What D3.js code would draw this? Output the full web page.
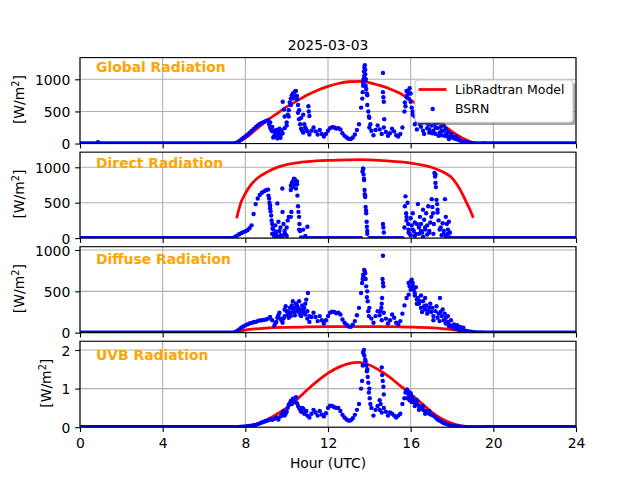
<!DOCTYPE html>
<html><head><meta charset="utf-8">
<script src="https://cdn.jsdelivr.net/npm/d3@7/dist/d3.min.js"></script>
<style>
html,body{margin:0;padding:0;background:#fff;}
svg{display:block;}
text{font-family:"DejaVu Sans",sans-serif;}
</style></head><body>
<svg id="chart" width="640" height="480"></svg>
<script>
// ---------------- DATA ----------------
const titleText = "2025-03-03";
const panelNames = ["Global Radiation", "Direct Radiation", "Diffuse Radiation", "UVB Radiation"];
const yMaxes = [1338, 1214, 1040, 2.227];
const yTicks = [[0, 500, 1000], [0, 500, 1000], [0, 500, 1000], [0, 1, 2]];
const xTicks = [0, 4, 8, 12, 16, 20, 24];
const xLabel = "Hour (UTC)";
const legendLabels = ["LibRadtran Model", "BSRN"];

// BSRN is zero during the night
const nightSegments = [[0, 7.5], [19.5, 24]];

// LibRadtran model [hour, value]
const modelGlobal = [[7.55,0],[8,85],[8.5,215],[9,345],[9.5,460],[10,570],[10.5,665],[11,755],[11.5,830],[12,890],[12.5,935],[13,962],[13.5,968],[14,950],[14.5,905],[15,850],[15.5,780],[16,680],[16.5,560],[17,430],[17.5,305],[18,185],[18.5,85],[19,15],[19.2,0]];
const modelDirect = [[7.58,280],[7.75,470],[8,630],[8.25,745],[8.5,825],[8.77,887],[9,925],[9.5,995],[10,1038],[10.5,1063],[11,1080],[12,1098],[13,1106],[13.6,1108],[14,1105],[15,1088],[15.5,1075],[16,1058],[16.5,1035],[16.85,1012],[17.2,980],[17.66,920],[18,850],[18.25,752],[18.5,625],[18.71,497],[18.9,380],[19.03,286]];
const modelDiffuse = [[7.58,5],[7.8,22],[8,32],[8.5,47],[9,56],[10,64],[11,69],[12,72],[13,74],[14,74],[15,72],[16,67],[17,58],[17.5,50],[18,36],[18.5,20],[19.03,5]];
const modelUVB = [[7.6,0],[8,0.02],[8.5,0.07],[9,0.18],[9.5,0.33],[10,0.5],[10.5,0.72],[11,0.97],[11.5,1.2],[12,1.4],[12.5,1.55],[13,1.65],[13.5,1.68],[14,1.61],[14.5,1.47],[15,1.29],[15.5,1.07],[16,0.86],[16.5,0.63],[17,0.4],[17.5,0.22],[18,0.1],[18.5,0.03],[19,0]];

// BSRN daytime trace, sampled every 0.1 h from 07:30 to 19:30
const traceStart = 7.5, traceStep = 0.1;
const bsrnGlobal = [5,18,38,62,88,112,138,165,195,225,
 255,282,305,322,338,350,362,330,190,120,
 210,140,90,160,240,330,520,700,780,810,
 740,380,230,170,250,190,140,200,250,190,
 140,210,150,110,150,200,240,255,250,235,
 240,220,160,120,95,75,70,95,140,210,
 300,560,900,1150,750,400,200,130,210,280,
 220,150,250,180,120,160,230,190,130,110,
 150,250,500,720,800,650,450,300,220,380,
 260,200,330,240,170,280,200,150,240,170,
 130,200,140,110,90,120,80,70,60,45,
 35,28,20,15,10,7,5,3,2,1,
 0];
const bsrnDirect = [15,35,55,70,85,95,110,140,180,340,
 480,560,610,640,660,675,685,420,60,20,
 90,10,40,0,60,150,300,740,800,830,
 760,120,10,0,30,0,0,0,0,0,
 0,0,0,0,0,0,0,0,0,0,
 0,0,0,0,0,0,0,0,0,0,
 0,0,980,600,100,0,0,0,0,0,
 0,0,0,0,0,0,0,0,0,0,
 0,0,150,300,80,40,120,30,200,60,
 100,20,150,50,80,300,60,900,400,120,
 40,100,20,60,10,0,0,0,0,0,
 0,0,0,0,0,0,0,0,0,0,
 0];
const bsrnDiffuse = [5,20,40,60,75,88,100,110,118,125,
 130,140,148,150,155,160,170,190,150,80,
 130,210,170,120,200,260,180,240,290,210,
 330,250,200,280,220,170,130,190,240,190,
 140,200,150,110,150,200,240,255,250,235,
 240,220,160,120,95,75,70,95,140,210,
 300,480,700,720,500,300,170,120,200,260,
 210,150,240,170,110,150,220,180,120,100,
 140,230,330,420,460,520,560,480,400,350,
 300,380,280,230,300,250,200,260,180,140,
 200,150,110,130,90,70,50,60,40,30,
 45,25,20,15,10,7,5,3,2,1,
 0];
const bsrnUVB = [0,0,0.005,0.01,0.015,0.02,0.025,0.03,0.04,0.05,
 0.06,0.08,0.1,0.12,0.14,0.16,0.18,0.2,0.19,0.22,
 0.25,0.2,0.28,0.36,0.3,0.4,0.58,0.68,0.74,0.72,
 0.62,0.5,0.4,0.48,0.4,0.3,0.25,0.35,0.45,0.38,
 0.3,0.42,0.33,0.28,0.36,0.5,0.56,0.55,0.52,0.5,
 0.5,0.42,0.32,0.25,0.2,0.17,0.18,0.23,0.32,0.45,
 0.6,1.0,1.95,1.75,1.5,1.0,0.5,0.3,0.45,0.55,
 0.45,0.38,0.5,0.4,0.3,0.38,0.35,0.3,0.25,0.3,
 0.35,0.6,0.75,0.95,0.85,0.8,0.72,0.65,0.6,0.55,
 0.5,0.45,0.42,0.38,0.35,0.32,0.3,0.25,0.2,0.17,
 0.14,0.11,0.09,0.07,0.05,0.04,0.03,0.025,0.02,0.015,
 0.01,0.005,0,0,0,0,0,0,0,0,
 0];

// BSRN additional scattered samples [hour, value]
const bsrnGlobalExtra = [[0.87,20],
 [9.15,300],[9.2,250],[9.25,220],[9.3,260],[9.35,95],[9.4,200],[9.45,150],[9.5,120],[9.55,80],[9.6,180],[9.65,230],[9.7,130],[9.75,200],[9.81,650],[9.87,530],[9.9,420],[10.0,280],[10.05,450],[10.1,420],[10.15,640],[10.2,600],[10.25,750],[10.3,700],[10.35,760],[10.4,740],[10.45,820],[10.5,690],[10.55,600],[10.55,480],[10.6,520],[10.65,300],[10.7,400],[10.75,200],[10.8,450],[10.85,300],[10.95,220],[11.05,580],[11.07,500],[11.1,430],
 [13.66,700],[13.68,800],[13.7,950],[13.72,1000],[13.74,1120],[13.75,1050],[13.76,1180],[13.78,1220],[13.8,1080],[13.8,980],[13.82,900],[13.83,1000],[13.85,850],[13.88,780],[13.9,600],[13.95,500],[13.98,420],[14.0,250],[14.05,300],
 [14.66,1100],[14.66,800],[14.68,720],[14.7,650],[14.72,380],
 [15.72,640],[15.75,580],[15.8,820],[15.85,760],[15.9,700],[15.95,860],[16.0,780],[16.05,560],[16.1,500],
 [16.2,420],[16.3,350],[16.35,480],[16.45,300],[16.5,420],[16.6,330],[16.65,150],[16.75,400],[16.85,300],[16.9,220],[17.0,350],[17.05,160],[17.15,300],[17.2,250],[17.3,320],[17.35,120],[17.45,260],[17.5,200],[17.6,280],[17.65,120],[17.7,230],[17.8,180],[17.85,70],[17.95,150],[18.05,100],[18.2,110],[18.3,80]];
const bsrnDirectExtra = [
 [9.12,600],[9.15,560],[9.17,500],[9.2,460],[9.22,380],[9.25,320],[9.27,250],[9.3,200],[9.32,140],
 [9.35,120],[9.4,60],[9.45,180],[9.5,40],[9.55,490],[9.6,230],[9.65,100],[9.7,150],[9.75,30],[9.79,700],[9.8,370],[9.85,200],[9.9,100],[9.95,50],[10.0,30],[10.05,250],
 [10.2,680],[10.25,780],[10.3,720],[10.35,840],[10.4,760],[10.45,700],[10.5,800],[10.52,600],[10.55,450],[10.57,370],[10.6,300],[10.62,200],[10.65,100],[10.23,370],[10.2,300],[11.0,160],[10.8,120],
 [13.67,940],[13.7,980],[13.72,900],[13.74,840],[13.75,820],[13.77,680],[13.78,620],[13.8,580],[13.82,440],[13.84,390],[13.85,350],[13.87,230],[13.88,160],[13.9,60],
 [14.66,200],[14.68,150],[14.7,80],
 [15.72,450],[15.75,590],[15.78,350],[15.8,250],[15.85,500],[15.88,200],[15.9,120],[15.95,60],[16.0,280],[16.05,180],[16.1,350],[16.15,100],[16.2,220],[16.25,60],[16.35,480],[16.4,150],[16.45,300],[16.5,200],[16.55,80],[16.6,400],[16.65,260],[16.7,120],[16.75,350],[16.8,180],[16.85,450],[16.9,100],[16.95,220],
 [17.02,550],[17.05,440],[17.08,350],[17.12,200],[17.15,920],[17.18,870],[17.2,780],[17.22,720],[17.25,540],[17.28,480],[17.3,360],[17.35,250],[17.45,150],[17.55,210],[17.6,60],[17.66,550],[17.7,300],[17.75,200],[17.8,120],[17.85,230],[17.9,80]];
const bsrnDiffuseExtra = [
 [9.45,110],[9.55,180],[9.65,240],[9.75,150],[9.85,170],[9.9,280],[9.95,320],[10.05,220],[10.1,250],[10.15,300],[10.2,200],[10.25,330],[10.3,380],[10.35,250],[10.4,300],[10.45,350],[10.5,260],[10.55,300],[10.6,380],[10.65,220],[10.7,280],[10.75,330],[10.8,240],[10.85,300],[10.9,350],[10.95,400],[11.0,260],[11.03,480],[11.1,200],
 [13.65,600],[13.68,650],[13.72,680],[13.75,760],[13.78,740],[13.82,650],[13.85,560],[13.88,430],[13.92,380],[13.95,260],[13.98,200],
 [14.66,930],[14.64,650],[14.66,600],[14.68,560],[14.62,420],[14.6,350],[14.58,300],[14.55,260],
 [15.9,600],[15.95,560],[16.0,620],[16.05,640],[16.1,600],[16.15,520],[16.2,450],[16.25,550],[16.3,350],[16.35,420],[16.45,380],[16.5,450],[16.55,250],[16.65,320],[16.7,420],[16.75,330],[16.85,260],[16.95,350],[17.05,300],[17.1,150],[17.25,320],[17.35,230],[17.42,420],[17.45,250],[17.55,280],[17.65,230],[17.7,180],[17.8,200],[17.85,80],[17.95,150],[18.1,100],[18.25,90],[18.4,70],[18.55,60]];
const bsrnUVBExtra = [
 [9.75,0.3],[9.85,0.42],[9.95,0.35],[10.05,0.5],[10.15,0.62],[10.25,0.6],[10.35,0.65],[10.45,0.78],[10.55,0.55],[10.65,0.45],[10.75,0.5],[10.85,0.35],[10.95,0.42],
 [13.65,1.2],[13.68,1.6],[13.72,1.9],[13.74,2.0],[13.76,1.85],[13.82,1.7],[13.85,1.6],[13.88,1.45],[13.92,1.3],[13.95,1.15],[13.98,0.9],[14.02,0.75],[14.05,0.6],
 [14.5,0.7],[14.55,0.6],[14.6,1.55],[14.62,1.35],[14.65,1.2],[14.68,1.05],[14.7,0.85],
 [15.75,0.9],[15.82,0.98],[15.85,0.75],[15.9,0.92],[15.95,0.7],[16.0,0.88],[16.05,0.65],[16.1,0.78],[16.2,0.55],[16.3,0.7],[16.4,0.45],[16.6,0.55],[16.7,0.35],[16.9,0.42]];

// ---------------- DRAWING ----------------
const svg = d3.select('#chart');
const L = 80, R = 576;
const panelTops = [57.6, 152.15, 246.7, 341.25];
const panelH = 85.95;
const labelBaselines = [72.3, 168.3, 264.3, 360.3];
const ylabelX = [23.5, 23.5, 23.5, 50.9];
const FS = 13.9;
const BLUE = '#0000ff', RED = '#ff0000', GRID = '#b0b0b0';

const x = d3.scaleLinear().domain([0, 24]).range([L, R]);

const panels = [
  {model: modelGlobal, trace: bsrnGlobal, extra: bsrnGlobalExtra},
  {model: modelDirect, trace: bsrnDirect, extra: bsrnDirectExtra},
  {model: modelDiffuse, trace: bsrnDiffuse, extra: bsrnDiffuseExtra},
  {model: modelUVB, trace: bsrnUVB, extra: bsrnUVBExtra}
];

const defs = svg.append('defs');

panels.forEach((p, i) => {
  const top = panelTops[i], bot = top + panelH;
  const y = d3.scaleLinear().domain([0, yMaxes[i]]).range([bot, top]);
  const g = svg.append('g');

  // grid
  g.selectAll('line.gx').data(xTicks).join('line').attr('class', 'gx')
    .attr('x1', d => x(d)).attr('x2', d => x(d)).attr('y1', top).attr('y2', bot)
    .attr('stroke', GRID).attr('stroke-width', 1.1);
  g.selectAll('line.gy').data(yTicks[i]).join('line').attr('class', 'gy')
    .attr('x1', L).attr('x2', R).attr('y1', d => y(d)).attr('y2', d => y(d))
    .attr('stroke', GRID).attr('stroke-width', 1.1);

  // clip
  const cid = 'clip' + i;
  defs.append('clipPath').attr('id', cid).append('rect')
    .attr('x', L).attr('y', top).attr('width', R - L).attr('height', panelH);
  const pg = g.append('g').attr('clip-path', `url(#${cid})`);

  // model line
  pg.append('path').datum(p.model)
    .attr('d', d3.line().x(d => x(d[0])).y(d => y(d[1])).curve(d3.curveMonotoneX))
    .attr('fill', 'none').attr('stroke', RED).attr('stroke-width', 2.78);

  // BSRN night zeros
  pg.selectAll('line.night').data(nightSegments).join('line').attr('class', 'night')
    .attr('x1', d => x(d[0])).attr('x2', d => x(d[1])).attr('y1', y(0)).attr('y2', y(0))
    .attr('stroke', BLUE).attr('stroke-width', 4.4).attr('stroke-linecap', 'round');

  // BSRN points
  const pts = p.trace.map((v, k) => [traceStart + k * traceStep, v]).concat(p.extra);
  pg.selectAll('circle').data(pts).join('circle')
    .attr('cx', d => x(d[0])).attr('cy', d => y(d[1])).attr('r', 2.2).attr('fill', BLUE);

  // panel label
  g.append('text').attr('x', 96).attr('y', labelBaselines[i])
    .attr('fill', '#ffa500').attr('font-weight', 'bold').attr('font-size', FS)
    .text(panelNames[i]);

  // axes
  const ax = d3.axisBottom(x).tickValues(xTicks).tickSize(4.86).tickPadding(4.86);
  if (i < 3) ax.tickFormat('');
  const axg = svg.append('g').attr('transform', `translate(0,${bot})`).call(ax);
  axg.select('.domain').remove();
  axg.selectAll('line').attr('stroke', 'black').attr('stroke-width', 1.1);
  axg.selectAll('text').attr('font-size', FS).attr('fill', 'black').attr('dy', '0.82em');

  const ay = d3.axisLeft(y).tickValues(yTicks[i]).tickSize(4.86).tickPadding(4.86).tickFormat(d3.format('d'));
  const ayg = svg.append('g').attr('transform', `translate(${L},0)`).call(ay);
  ayg.select('.domain').remove();
  ayg.selectAll('line').attr('stroke', 'black').attr('stroke-width', 1.1);
  ayg.selectAll('text').attr('font-size', FS).attr('fill', 'black').attr('dy', '0.36em');

  // spines
  svg.append('rect').attr('x', L).attr('y', top).attr('width', R - L).attr('height', panelH)
    .attr('fill', 'none').attr('stroke', 'black').attr('stroke-width', 1.1);

  // y label
  const yl = svg.append('text')
    .attr('transform', `translate(${ylabelX[i]},${(top + bot) / 2 - 1}) rotate(-90)`)
    .attr('text-anchor', 'middle').attr('font-size', FS).attr('fill', 'black');
  yl.append('tspan').text('[W/m');
  yl.append('tspan').attr('dy', -5).attr('font-size', FS * 0.7).text('2');
  yl.append('tspan').attr('dy', 5).text(']');
});

// title
svg.append('text').attr('x', (L + R) / 2).attr('y', 49.8).attr('text-anchor', 'middle')
  .attr('font-size', FS).attr('fill', 'black').text(titleText);
// x label
svg.append('text').attr('x', (L + R) / 2).attr('y', 468).attr('text-anchor', 'middle')
  .attr('font-size', FS).attr('fill', 'black').text(xLabel);

// legend
const lg = svg.append('g');
const lx = 415, ly = 80, lw = 158, lh = 42.3;
lg.append('rect').attr('x', lx + 2.8).attr('y', ly + 2.8).attr('width', lw).attr('height', lh)
  .attr('rx', 3.5).attr('fill', 'rgb(77,77,77)').attr('opacity', 0.5);
lg.append('rect').attr('x', lx).attr('y', ly).attr('width', lw).attr('height', lh)
  .attr('rx', 3.5).attr('fill', 'white').attr('stroke', '#cccccc').attr('stroke-width', 1.1);
lg.append('line').attr('x1', 418.5).attr('x2', 446.5).attr('y1', 89.5).attr('y2', 89.5)
  .attr('stroke', RED).attr('stroke-width', 2.78);
lg.append('circle').attr('cx', 432.7).attr('cy', 109).attr('r', 2.2).attr('fill', BLUE);
lg.append('text').attr('x', 455).attr('y', 94).attr('font-size', 12.5).attr('fill', 'black').text(legendLabels[0]);
lg.append('text').attr('x', 455).attr('y', 113.3).attr('font-size', 12.5).attr('fill', 'black').text(legendLabels[1]);
</script>
</body></html>
